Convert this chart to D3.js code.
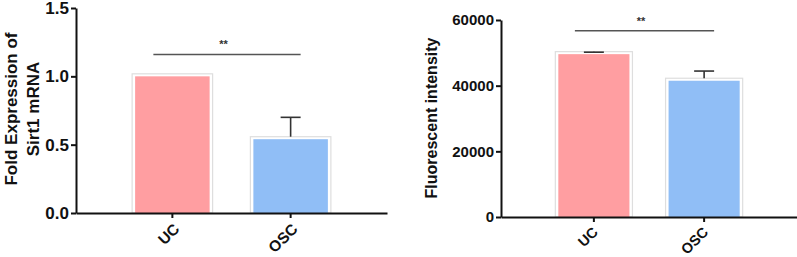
<!DOCTYPE html>
<html>
<head>
<meta charset="utf-8">
<script src="https://cdn.jsdelivr.net/npm/d3@7"></script>
<style>
  body { margin: 0; background: #fff; }
  svg { display: block; font-family: 'Liberation Sans', Arial, sans-serif; }
</style>
</head>
<body>
<div id="chart"></div>
<script>
// data
var groups = ['UC', 'OSC'];
var barColors = ['#FF9EA1', '#90BEF6'];

var sirt1Mean = [1.0, 0.54];
var sirt1Err = [0, 0.16];
var sirt1Ticks = [0, 0.5, 1.0, 1.5];
var sirt1Sig = 1.16;

var fluoMean = [49600, 41500];
var fluoErr = [600, 2950];
var fluoTicks = [0, 20000, 40000, 60000];
var fluoSig = 56700;

var svg = d3.select('#chart')
    .append('svg')
    .attr('width', 797)
    .attr('height', 257)

function drawPanel (p){

    var xscale = d3.scaleBand()
        .domain(groups)
        .range([p.left, p.right])
        .paddingInner(p.padIn)
        .paddingOuter(p.padOut)

    var yscale = d3.scaleLinear()
        .domain([0, p.ticks[p.ticks.length - 1]])
        .range([p.bottom, p.top])

    var g = svg.append('g')

    var rows = groups.map(function(d, i){
        return { group: d, mean: p.mean[i], err: p.err[i], color: barColors[i] }
    })

    // pale outline behind each bar
    g.selectAll('.outline')
        .data(rows)
        .enter()
        .append('rect')
        .attr('class', 'outline')
        .attr('x', d => xscale(d.group) - 3)
        .attr('y', d => yscale(d.mean) - 2.5)
        .attr('width', xscale.bandwidth() + 6)
        .attr('height', d => p.bottom - yscale(d.mean) + 2.5)
        .attr('fill', '#fff')
        .attr('stroke', '#dedede')
        .attr('stroke-width', 1.2)

    g.selectAll('.bar')
        .data(rows)
        .enter()
        .append('rect')
        .attr('class', 'bar')
        .attr('x', d => xscale(d.group))
        .attr('y', d => yscale(d.mean))
        .attr('width', xscale.bandwidth())
        .attr('height', d => p.bottom - yscale(d.mean))
        .attr('fill', d => d.color)

    // error bars (upper only)
    var eb = g.selectAll('.err')
        .data(rows.filter(d => d.err > 0))
        .enter()
        .append('g')
        .attr('stroke', '#333')
        .attr('stroke-width', 1.6)

    eb.append('line')
        .attr('x1', d => xscale(d.group) + xscale.bandwidth() / 2)
        .attr('x2', d => xscale(d.group) + xscale.bandwidth() / 2)
        .attr('y1', d => yscale(d.mean) - 2.5)
        .attr('y2', d => yscale(d.mean + d.err))

    eb.append('line')
        .attr('x1', d => xscale(d.group) + xscale.bandwidth() / 2 - 10)
        .attr('x2', d => xscale(d.group) + xscale.bandwidth() / 2 + 10)
        .attr('y1', d => yscale(d.mean + d.err))
        .attr('y2', d => yscale(d.mean + d.err))

    // y axis
    var yaxis = d3.axisLeft(yscale)
        .tickValues(p.ticks)
        .tickFormat(p.fmt)
        .tickSize(5)
        .tickSizeOuter(0)

    var ya = g.append('g')
        .attr('transform', 'translate(' + p.left + ',0)')
        .call(yaxis)
    ya.selectAll('path, line').attr('stroke', '#111').attr('stroke-width', 2)
    ya.selectAll('text')
        .attr('fill', '#111')
        .attr('font-weight', '700')
        .style('font-size', p.tickFont + 'px')
        .attr('x', -7)

    // x axis, labels drawn separately so they can be slanted
    var xaxis = d3.axisBottom(xscale)
        .tickSize(5)
        .tickSizeOuter(0)
        .tickFormat('')

    var xa = g.append('g')
        .attr('transform', 'translate(0,' + p.bottom + ')')
        .call(xaxis)
    xa.selectAll('path, line').attr('stroke', '#111').attr('stroke-width', 2)

    g.selectAll('.cat')
        .data(groups)
        .enter()
        .append('g')
        .attr('class', 'cat')
        .attr('transform', d => 'translate(' + (xscale(d) + xscale.bandwidth() / 2 + p.catDx) + ',' + (p.bottom + p.catDy) + ')')
        .append('text')
        .attr('transform', 'rotate(-45)')
        .attr('text-anchor', 'end')
        .attr('fill', '#111')
        .attr('font-weight', '700')
        .style('font-size', p.catFont + 'px')
        .text(d => d)

    // significance
    var c0 = xscale(groups[0]) + xscale.bandwidth() / 2
    var c1 = xscale(groups[1]) + xscale.bandwidth() / 2
    g.append('line')
        .attr('x1', c0 - 19)
        .attr('x2', c1 + 10)
        .attr('y1', yscale(p.sig))
        .attr('y2', yscale(p.sig))
        .attr('stroke', '#555')
        .attr('stroke-width', 1.5)

    g.append('text')
        .attr('x', (c0 + c1) / 2 - 8)
        .attr('y', yscale(p.sig) - 6)
        .attr('text-anchor', 'middle')
        .attr('font-weight', '700')
        .style('font-size', '11px')
        .attr('fill', '#333')
        .text('**')

    // y title
    var t = g.append('text')
        .attr('transform', 'translate(' + p.titleX + ',' + p.titleY + ') rotate(-90)')
        .attr('text-anchor', 'middle')
        .attr('font-weight', '700')
        .style('font-size', p.titleFont + 'px')
        .attr('fill', '#111')
    p.title.forEach(function(line, i){
        t.append('tspan')
            .attr('x', 0)
            .attr('dy', i === 0 ? 0 : 22)
            .text(line)
    })
}

drawPanel({
    left: 76, right: 387, top: 8, bottom: 213,
    padIn: 0.37, padOut: 0.5,
    mean: sirt1Mean, err: sirt1Err, ticks: sirt1Ticks, sig: sirt1Sig,
    fmt: d3.format('.1f'),
    tickFont: 17, catFont: 15.5, catDx: 8, catDy: 17, titleFont: 17,
    title: ['Fold Expression of', 'Sirt1 mRNA'], titleX: 17, titleY: 109
})

drawPanel({
    left: 501, right: 797, top: 20, bottom: 217,
    padIn: 0.355, padOut: 0.52,
    mean: fluoMean, err: fluoErr, ticks: fluoTicks, sig: fluoSig,
    fmt: d3.format('d'),
    tickFont: 15, catFont: 14.5, catDx: 5, catDy: 16, titleFont: 16,
    title: ['Fluorescent intensity'], titleX: 437, titleY: 118
})
</script>
</body>
</html>
